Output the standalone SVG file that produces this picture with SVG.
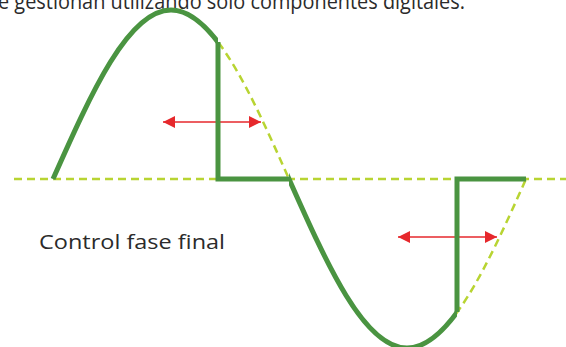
<svg xmlns="http://www.w3.org/2000/svg" width="566" height="347" viewBox="0 0 566 347">
<style>
.txt{font-family:"Open Sans","Liberation Sans",sans-serif;font-weight:400;fill:#2b2b2b;}
.dash{fill:none;stroke:#b8d432;stroke-width:2.5;stroke-dasharray:8 5;}
.wave{fill:none;stroke:#4a9441;stroke-width:5;stroke-linejoin:miter;}
.arr{stroke:#e6282c;stroke-width:1.5;marker-start:url(#ah);marker-end:url(#ah);}
</style>
<defs>
<path id="sine" d="M53,179 C91.48,92.42 128.29,10 171,10 C213.71,10 250.52,92.42 289,179 C327.48,265.58 364.29,348 407,348 C449.71,348 487.52,265.58 526,179"/>
<clipPath id="c1"><rect x="0" y="0" width="218" height="347"/><rect x="289" y="0" width="168" height="347"/></clipPath>
<clipPath id="c2"><rect x="218" y="0" width="71" height="347"/><rect x="457" y="0" width="109" height="347"/></clipPath>
<marker id="ah" viewBox="0 0 12 12" refX="12" refY="6" markerWidth="12" markerHeight="12" markerUnits="userSpaceOnUse" orient="auto-start-reverse"><path d="M0,0 L12,6 L0,12 Z" fill="#e6282c"/></marker>
</defs>
<text class="txt" x="-2" y="9" font-size="21" textLength="467" lengthAdjust="spacingAndGlyphs">e gestionan utilizando solo componentes digitales.</text>
<g id="connectors">
<line class="dash" x1="14" y1="179" x2="566" y2="179"/>
<use href="#sine" class="dash" clip-path="url(#c2)"/>
<line class="arr" x1="163" y1="122" x2="261" y2="122"/>
<line class="arr" x1="398" y1="237" x2="497" y2="237"/>
</g>
<g id="wave">
<use href="#sine" class="wave" clip-path="url(#c1)"/>
<path class="wave" d="M218,42 V179 H289"/>
<path class="wave" d="M457,312 V179 H526"/>
</g>
<g id="label">
<text class="txt" x="39" y="249" font-size="20" textLength="186" lengthAdjust="spacingAndGlyphs">Control fase final</text>
</g>
</svg>
